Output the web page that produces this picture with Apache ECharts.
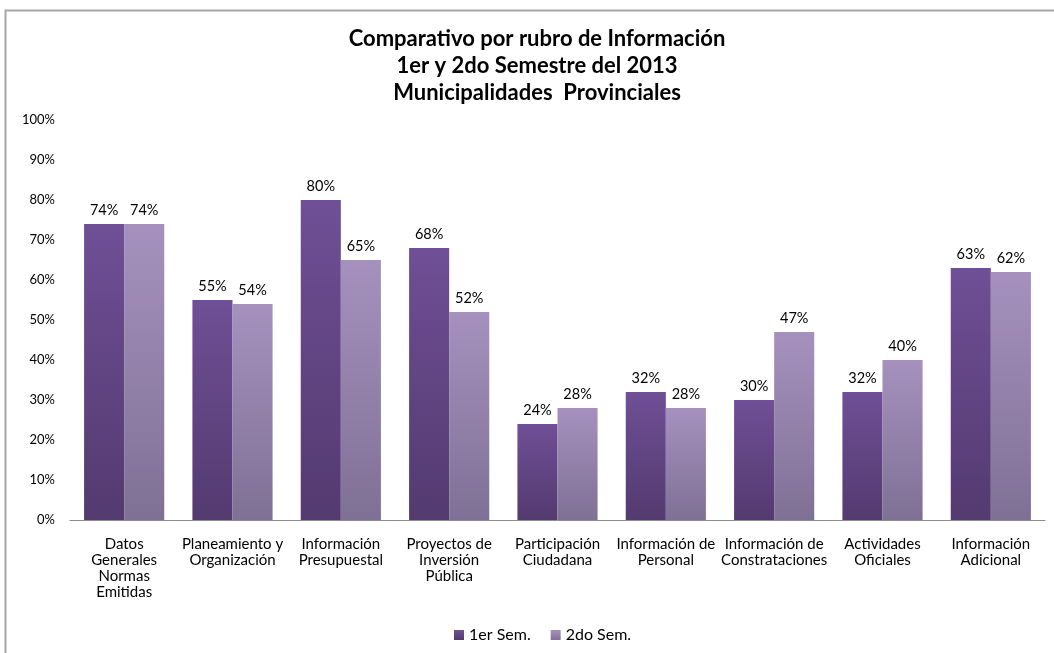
<!DOCTYPE html>
<html>
<head>
<meta charset="utf-8">
<script src="https://cdn.jsdelivr.net/npm/echarts@6/dist/echarts.min.js"></script>
<style>
  html, body { margin: 0; padding: 0; background: #fff; }
  #chart { width: 1054px; height: 653px; }
</style>
</head>
<body>
<div id="chart"></div>
<script>
// Categories of information and the share reported in each semester (percent)
const categories = [
  'Datos\nGenerales\nNormas\nEmitidas',
  'Planeamiento y\nOrganización',
  'Información\nPresupuestal',
  'Proyectos de\nInversión\nPública',
  'Participación\nCiudadana',
  'Información de\nPersonal',
  'Información de\nConstrataciones',
  'Actividades\nOficiales',
  'Información\nAdicional'
];
const seriesNames = ['1er Sem.', '2do Sem.'];
const sem1 = [74, 55, 80, 68, 24, 32, 30, 32, 63];
const sem2 = [74, 54, 65, 52, 28, 28, 47, 40, 62];
const titleLines = [
  'Comparativo por rubro de Información',
  '1er y 2do Semestre del 2013',
  'Municipalidades  Provinciales'
];

const FONT = 'Lato, "Open Sans", sans-serif';

function grad(top, bottom) {
  return new echarts.graphic.LinearGradient(0, 0, 0, 1, [
    { offset: 0, color: top },
    { offset: 1, color: bottom }
  ]);
}

const colors = [grad('#6f4f96', '#533a6f'), grad('#a691be', '#7f7095')];

const chart = echarts.init(document.getElementById('chart'), null, { renderer: 'canvas' });
chart.setOption({
  animation: false,
  backgroundColor: '#ffffff',
  graphic: [
    {
      type: 'rect',
      shape: { x: 5.5, y: 10.5, width: 1200, height: 800 },
      style: { fill: 'none', stroke: '#a6a6a6', lineWidth: 2 },
      silent: true
    },
    {
      // three-line chart heading, centred over the plot
      type: 'text',
      x: 537,
      y: 25,
      style: {
        text: titleLines.join('\n'),
        align: 'center',
        verticalAlign: 'top',
        fontFamily: FONT,
        fontSize: 22,
        fontWeight: 'bold',
        lineHeight: 27,
        fill: '#000'
      },
      silent: true
    }
  ],
  legend: {
    data: seriesNames,
    bottom: 5,
    left: 449,
    itemWidth: 10,
    itemHeight: 10,
    itemGap: 20,
    icon: 'rect',
    textStyle: { fontFamily: FONT, fontSize: 16, color: '#000' }
  },
  grid: { left: 70, right: 9, top: 120, bottom: 133, containLabel: false },
  xAxis: {
    type: 'category',
    data: categories,
    axisLine: { lineStyle: { color: '#8c8c8c', width: 1 } },
    axisTick: { show: false },
    axisLabel: {
      interval: 0,
      margin: 16,
      fontFamily: FONT,
      fontSize: 15,
      lineHeight: 16,
      color: '#000'
    }
  },
  yAxis: {
    type: 'value',
    min: 0,
    max: 100,
    interval: 10,
    axisLine: { show: false },
    axisTick: { show: false },
    splitLine: { show: false },
    axisLabel: {
      margin: 15,
      fontFamily: FONT,
      fontSize: 13,
      color: '#000',
      formatter: v => v + '%'
    }
  },
  series: [sem1, sem2].map((vals, i) => ({
    name: seriesNames[i],
    type: 'bar',
    data: vals,
    barGap: '0%',
    barCategoryGap: '26%',
    itemStyle: { color: colors[i] },
    label: {
      show: true,
      position: 'top',
      distance: 6,
      fontFamily: FONT,
      fontSize: 14.5,
      color: '#000',
      formatter: p => p.value + '%'
    }
  }))
});
</script>
</body>
</html>
